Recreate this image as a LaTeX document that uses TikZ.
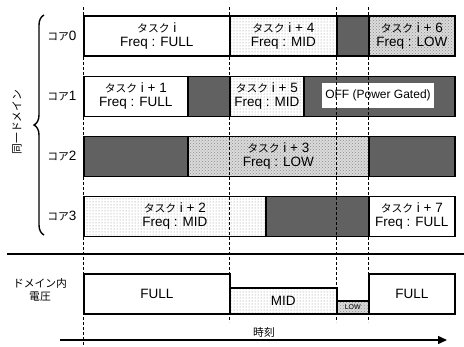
\documentclass[tikz,border=0pt]{standalone}
\usepackage{fontspec}
\setmainfont{Liberation Sans}
\newfontfamily\jp{Noto Sans CJK JP}[Scale=0.8]
\usepackage{tikz}
\usetikzlibrary{arrows.meta, positioning, patterns, decorations.pathreplacing}
\tikzset{
    segbox/.style={draw=black, line width=1.6pt, anchor=north west, inner sep=0pt,
        align=center, minimum height=40pt, font=\fontsize{13.5}{14}\selectfont},
    fullbox/.style={segbox, fill=white},
    midbox/.style={segbox, preaction={fill=white}, pattern=dots, pattern color=black!45},
    lowbox/.style={segbox, preaction={fill=black!14}, pattern=crosshatch dots, pattern color=black!45},
    idlebox/.style={segbox, fill=black!62},
    corelabel/.style={font=\fontsize{13.5}{14}\selectfont, left=3pt of #1}
}

\begin{document}
\begin{tikzpicture}[x=1pt, y=-1pt, >=Stealth]
    \useasboundingbox (0,0) rectangle (464,346);
    % core 0
    \node[fullbox, minimum width=146pt] (c0a) at (83,15) {{\jp タスク} i\\Freq : FULL};
    \node[midbox, minimum width=107pt] (c0b) at (229,15) {{\jp タスク} i + 4\\Freq : MID};
    \node[idlebox, minimum width=32pt] (c0c) at (336,15) {};
    \node[lowbox, minimum width=86pt] (c0d) at (368,15) {{\jp タスク} i + 6\\Freq : LOW};
    % core 1
    \node[fullbox, minimum width=104pt] (c1a) at (83,75.5) {{\jp タスク} i + 1\\Freq : FULL};
    \node[idlebox, minimum width=42pt] (c1b) at (187,75.5) {};
    \node[midbox, minimum width=74pt] (c1c) at (229,75.5) {{\jp タスク} i + 5\\Freq : MID};
    \node[idlebox, minimum width=151pt] (c1d) at (303,75.5) {};
    \node[fill=white, minimum width=112pt, minimum height=25pt, inner sep=0pt,
        font=\fontsize{12}{13}\selectfont] (off) at (378,95.5) {OFF (Power Gated)};
    % core 2
    \node[idlebox, minimum width=104pt] (c2a) at (83,135.5) {};
    \node[lowbox, minimum width=181pt] (c2b) at (187,135.5) {{\jp タスク} i + 3\\Freq : LOW};
    \node[idlebox, minimum width=86pt] (c2c) at (368,135.5) {};
    % core 3
    \node[midbox, minimum width=182pt] (c3a) at (83,195.5) {{\jp タスク} i + 2\\Freq : MID};
    \node[idlebox, minimum width=103pt] (c3b) at (265,195.5) {};
    \node[fullbox, minimum width=86pt] (c3c) at (368,195.5) {{\jp タスク} i + 7\\Freq : FULL};
    % core labels and brace
    \node[corelabel=c0a.west] (k0) {{\jp コア}0};
    \node[corelabel=c1a.west] (k1) {{\jp コア}1};
    \node[corelabel=c2a.west] (k2) {{\jp コア}2};
    \node[corelabel=c3a.west] (k3) {{\jp コア}3};
    \draw[line width=1.4pt, decorate, decoration={brace, amplitude=10pt}] (44,235) -- (44,15);
    \node[rotate=90, font=\fontsize{13.5}{14}\selectfont] (dom) at (17,122) {\jp 同一ドメイン};
    % voltage
    \draw[line width=1.8pt] (7,254) -- (464,254);
    \node[font=\fontsize{13.5}{13}\selectfont, align=center] (vlab) at (40,290) {\jp ドメイン内\\\jp 電圧};
    \node[fullbox, minimum width=146pt, minimum height=40pt] (v1) at (83,273) {FULL};
    \node[midbox, minimum width=107pt, minimum height=26pt] (v2) at (229,287) {MID};
    \node[lowbox, minimum width=32pt, minimum height=13pt, font=\fontsize{7}{8}\selectfont] (v3) at (336,300) {LOW};
    \node[fullbox, minimum width=86pt, minimum height=40pt] (v4) at (368,273) {FULL};
    % time
    \foreach \x/\e in {83/346, 229/322, 336/322, 368/322}
        \draw[dashed, dash pattern=on 3pt off 2pt, line width=0.8pt] (\x,7) -- (\x,\e);
    \coordinate (t0) at (60,340);
    \coordinate (t1) at (447,340);
    \draw[-{Triangle[length=9pt, width=8pt]}, line width=1.5pt] (t0) -- (t1);
    \node[font=\fontsize{13.5}{14}\selectfont] (tlab) at (264,332) {\jp 時刻};
\end{tikzpicture}
\end{document}
